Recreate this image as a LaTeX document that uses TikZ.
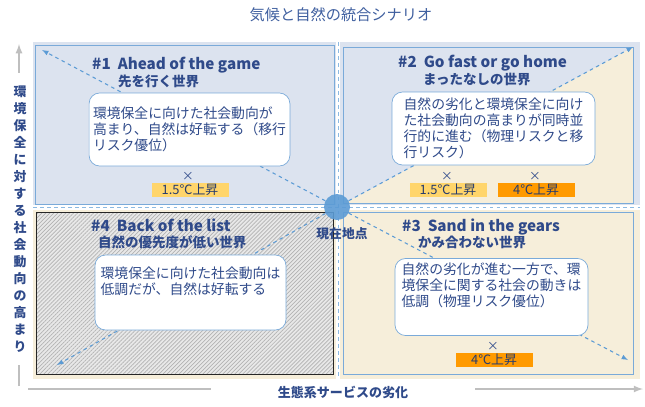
\documentclass[tikz,border=0pt]{standalone}
\usepackage{fontspec}
\setmainfont{Noto Sans CJK JP}
\usepackage{xcolor}
\usepackage{tikz}
\usetikzlibrary{arrows,positioning,patterns,patterns.meta}

\definecolor{ttlblue}{HTML}{3F5F9F}
\definecolor{txtblue}{HTML}{2F4A8A}
\definecolor{qblue}{HTML}{DCE3EF}
\definecolor{qcream}{HTML}{F6EEDA}
\definecolor{edgeblue}{HTML}{7AAAD9}
\definecolor{arrblue}{HTML}{5B9BD5}
\definecolor{tagyel}{HTML}{FFD56B}
\definecolor{tagorg}{HTML}{FF9A00}
\definecolor{axgray}{HTML}{BFBFBF}

\tikzset{
  callout/.style={draw=edgeblue, fill=white, rounded corners=9pt, line width=0.6pt,
    align=left, text=txtblue, font=\fontsize{11.8}{13.7}\selectfont},
  heading/.style={anchor=west, inner sep=0pt, text=txtblue, font=\fontsize{13}{15}\selectfont\bfseries},
  subhead/.style={anchor=west, inner sep=0pt, text=txtblue, font=\fontsize{11.5}{13}\selectfont\bfseries},
  tag/.style={minimum width=23.1mm, minimum height=4.2mm, inner sep=0pt,
    text=txtblue!80!black, font=\fontsize{11}{12}\selectfont},
  cross/.style={inner sep=0pt, text=txtblue, font=\fontsize{10}{11}\selectfont},
  diag/.style={-latex, dashed, arrblue, line width=0.9pt},
  quad/.style={draw=edgeblue, line width=0.8pt},
  axis/.style={-latex, axgray, line width=1.7pt}
}

\begin{document}
\begin{tikzpicture}[x=0.3mm, y=-0.3mm]
    \useasboundingbox (0,0) rectangle (645,406);

    % Title
    \node[text=ttlblue, font=\fontsize{13}{15}\selectfont] (title) at (341,15) {気候と自然の統合シナリオ};

    % Backgrounds and quadrants
    \fill[qblue] (33,42) rectangle (640,208);
    \fill[qcream] (33,208) rectangle (640,379);
    \draw[quad, fill=qblue] (35,45) rectangle (334,204);
    \fill[qcream] (343,47) rectangle (633,203);
    \fill[qblue] (343,47) -- (633,47) -- (343,204) -- cycle;
    \draw[quad] (343,47) rectangle (633,203);
    \draw[draw=black!85, line width=0.8pt, preaction={fill=gray!18},
          pattern={Lines[angle=45, distance=2.4pt, line width=0.6pt]}, pattern color=gray!60]
          (36,212) rectangle (333,374);
    \draw[quad, fill=qcream] (343,212) rectangle (633,374);

    % Separators
    \draw[white, line width=4pt] (338,42) -- (338,379);
    \draw[white, line width=4pt] (33,207.5) -- (640,207.5);
    \draw[arrblue!70, dashed, line width=0.6pt] (338,42) -- (338,379);
    \draw[arrblue!70, dashed, line width=0.6pt] (33,207.5) -- (640,207.5);

    % Current point and diagonal arrows
    \node[circle, fill=arrblue, fill opacity=0.9, minimum size=7.8mm, inner sep=0pt] (now) at (337,207) {};
    \node[text=txtblue, font=\fontsize{10.9}{12}\selectfont\bfseries] (nowlbl) at (342,234) {現在地点};
    \coordinate (c1) at (42,50);
    \coordinate (c2) at (633,47);
    \coordinate (c3) at (628,360);
    \coordinate (c4) at (57,365);
    \foreach \c in {c1,c2,c3,c4}
        \draw[diag] (now) -- (\c);

    % #1 Ahead of the game
    \node[heading] (h1) at (92,65) {\#1\ \ Ahead of the game};
    \node[subhead] (s1) at (118,81) {先を行く世界};
    \node[callout, minimum width=56.7mm, minimum height=21.9mm] (box1) at (189.5,129.5)
        {環境保全に向けた社会動向が\\高まり、自然は好転する（移行\\リスク優位）};
    \node[cross] (x1) at (188,176) {×};
    \node[tag, fill=tagyel] (t1) at (190,190) {1.5℃上昇};

    % #2 Go fast or go home
    \node[heading] (h2) at (398,63) {\#2\ \ Go fast or go home};
    \node[subhead] (s2) at (423,79) {まったなしの世界};
    \node[callout, minimum width=60.9mm, minimum height=21.9mm] (box2) at (493.5,128.5)
        {自然の劣化と環境保全に向け\\た社会動向の高まりが同時並\\行的に進む（物理リスクと移\\行リスク）};
    \node[cross] (x2a) at (447,176) {×};
    \node[cross] (x2b) at (535,176) {×};
    \node[tag, fill=tagyel] (t2a) at (448,190) {1.5℃上昇};
    \node[tag, fill=tagorg] (t2b) at (536,190) {4℃上昇};

    % #4 Back of the list
    \node[heading] (h4) at (91,225) {\#4\ \ Back of the list};
    \node[subhead] (s4) at (98,242) {自然の優先度が低い世界};
    \node[callout, minimum width=57.3mm, minimum height=22.5mm] (box4) at (190.5,292.5)
        {環境保全に向けた社会動向は\\低調だが、自然は好転する\\[6pt]};

    % #3 Sand in the gears
    \node[heading] (h3) at (402,227) {\#3\ \ Sand in the gears};
    \node[subhead] (s3) at (418,242) {かみ合わない世界};
    \node[callout, minimum width=57.9mm, minimum height=22.8mm] (box3) at (491.5,297)
        {自然の劣化が進む一方で、環\\境保全に関する社会の動きは\\低調（物理リスク優位）\\[8pt]};
    \node[cross] (x3) at (493,346) {×};
    \node[tag, fill=tagorg] (t3) at (494,360) {4℃上昇};

    % Axes
    \coordinate (ybot) at (19,386);
    \coordinate (ytop) at (19,44);
    \draw[axis] (ybot) -- (ytop);
    \node[fill=white, minimum height=87.6mm, inner xsep=1pt, align=center, text=txtblue,
          font=\fontsize{11}{14.5}\selectfont\bfseries] (ylbl) at (20,219)
        {環\\境\\保\\全\\に\\対\\す\\る\\社\\会\\動\\向\\の\\高\\ま\\り};
    \coordinate (xl) at (28,389);
    \coordinate (xr) at (643,389);
    \draw[axis] (xl) -- (xr);
    \node[fill=white, minimum width=79mm, text=txtblue,
          font=\fontsize{11.1}{13}\selectfont\bfseries] (xlbl) at (343,392) {生態系サービスの劣化};
\end{tikzpicture}
\end{document}
